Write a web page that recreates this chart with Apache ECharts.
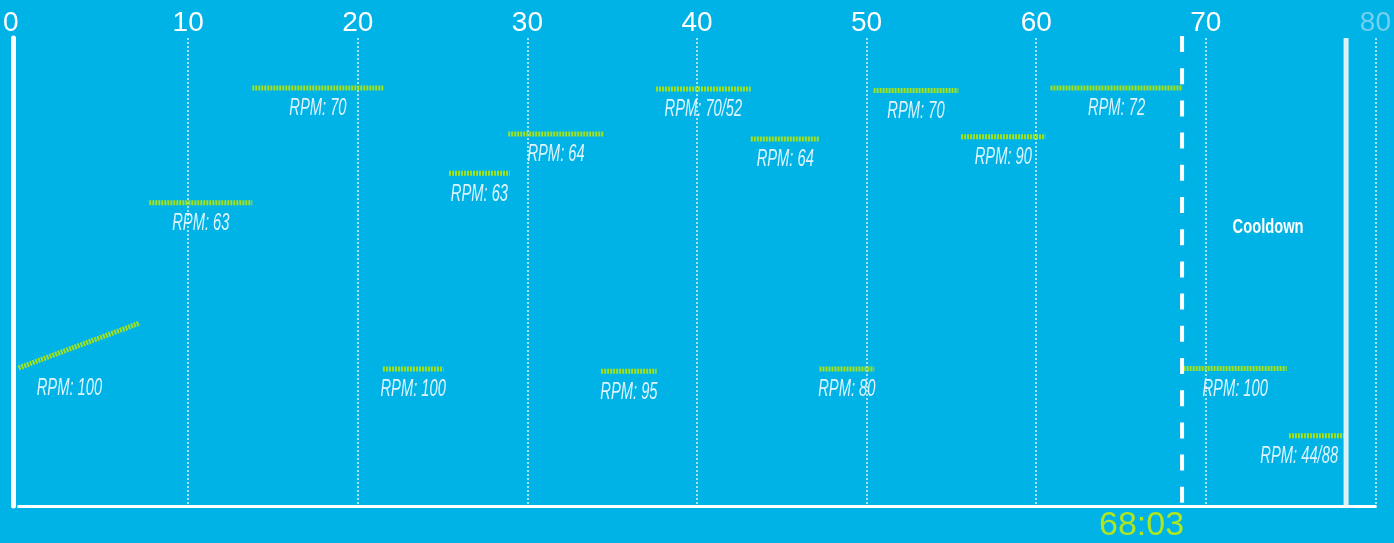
<!DOCTYPE html>
<html>
<head>
<meta charset="utf-8">
<title>Workout profile</title>
<script src="https://cdn.jsdelivr.net/npm/echarts@6/dist/echarts.min.js"></script>
<style>
  html, body { margin: 0; padding: 0; background: #00b3e6; }
  #chart { width: 1394px; height: 543px; }
</style>
</head>
<body>
<div id="chart"></div>
<script>
// minutes into the workout
const segStart = [0, 7.71, 13.78, 21.48, 25.38, 28.87, 34.35, 37.58, 43.17, 47.22, 50.41, 55.57, 60.84, 68.69, 74.9];
const segEnd = [7.14, 13.78, 21.52, 25.05, 28.96, 34.51, 37.62, 43.17, 47.24, 50.45, 55.41, 60.55, 68.63, 74.77, 78.14];
// effort level (0-100), start and end of each block
const levelStart = [29.5, 64.8, 89.3, 29.3, 71.1, 79.5, 28.8, 89.1, 78.4, 29.3, 88.8, 78.9, 89.3, 29.4, 15.0];
const levelEnd = [39.1, 64.8, 89.3, 29.3, 71.1, 79.5, 28.8, 89.1, 78.4, 29.3, 88.8, 78.9, 89.3, 29.4, 15.0];
const rpmLabels = ['RPM: 100', 'RPM: 63', 'RPM: 70', 'RPM: 100', 'RPM: 63', 'RPM: 64', 'RPM: 95',
  'RPM: 70/52', 'RPM: 64', 'RPM: 80', 'RPM: 70', 'RPM: 90', 'RPM: 72', 'RPM: 100', 'RPM: 44/88'];
const xTicks = [0, 10, 20, 30, 40, 50, 60, 70, 80];

const cooldownStart = 68.6;
const workoutEnd = 78.27;
const finishTime = '68:03';
const cooldownLabel = 'Cooldown';

// no condensed font installed, so squeeze the regular one
const labelFont = 'italic 23px "Liberation Sans"';
const labelScale = 0.64;

// measure text so the last label does not run into the end bar
const measureCtx = document.createElement('canvas').getContext('2d');
function textWidth(text, font) {
  measureCtx.font = font;
  return measureCtx.measureText(text).width;
}

function renderSegment(params, api) {
  const p0 = api.coord([api.value(0), api.value(2)]);
  const p1 = api.coord([api.value(1), api.value(3)]);
  const text = rpmLabels[params.dataIndex];
  const w = textWidth(text, labelFont) * labelScale;
  const limit = api.coord([workoutEnd, 0])[0] - 8;
  let lx = (p0[0] + p1[0]) / 2;
  // sloped blocks: label sits nearer the low end
  if (p0[1] !== p1[1]) lx = p0[0] + (p1[0] - p0[0]) * 0.42;
  if (lx + w / 2 > limit) lx = limit - w / 2;
  const ly = p0[1] + 21;
  return {
    type: 'group',
    children: [
      {
        type: 'line',
        shape: { x1: p0[0], y1: p0[1], x2: p1[0], y2: p1[1] },
        style: { stroke: '#a2e21c', lineWidth: 5, lineDash: [2, 1] }
      },
      {
        type: 'text',
        x: lx,
        y: ly,
        scaleX: labelScale,
        style: {
          text: text,
          fill: 'rgba(240,250,255,0.93)',
          font: labelFont,
          align: 'center', verticalAlign: 'middle',
          textAlign: 'center', textVerticalAlign: 'middle'
        }
      }
    ]
  };
}

function renderMarkers(params, api) {
  const top = api.coord([cooldownStart, 100]);
  const bottom = api.coord([cooldownStart, 0]);
  const endX = api.coord([workoutEnd, 0])[0];
  return {
    type: 'group',
    children: [
      {
        type: 'line',
        shape: { x1: top[0], y1: top[1] - 2, x2: top[0], y2: bottom[1] - 2 },
        style: { stroke: '#ffffff', lineWidth: 4, lineDash: [16, 16.2] }
      },
      {
        type: 'rect',
        shape: { x: endX - 2.5, y: top[1], width: 5, height: bottom[1] - top[1] - 1 },
        style: { fill: '#dcf0f8' }
      },
      {
        type: 'text',
        x: top[0] + 2,
        y: bottom[1] + 20,
        style: {
          text: finishTime,
          fill: '#aee71f',
          font: '34px "Liberation Sans"',
          align: 'right', verticalAlign: 'middle',
          textAlign: 'right', textVerticalAlign: 'middle'
        }
      },
      {
        type: 'text',
        x: (top[0] + endX) / 2 + 4,
        y: top[1] + (bottom[1] - top[1]) * 0.405,
        scaleX: 0.7,
        style: {
          text: cooldownLabel,
          fill: '#ffffff',
          font: 'bold 21px "Liberation Sans"',
          align: 'center', verticalAlign: 'middle',
          textAlign: 'center', textVerticalAlign: 'middle'
        }
      }
    ]
  };
}

const chart = echarts.init(document.getElementById('chart'));

const xMin = xTicks[0];
const xMax = xTicks[xTicks.length - 1];
const xStep = xTicks[1] - xTicks[0];

chart.setOption({
  backgroundColor: '#00b3e6',
  animation: false,
  grid: { left: 15.6, right: 17.3, top: 38, bottom: 37 },
  xAxis: [
    {
      type: 'value',
      position: 'top',
      min: xMin,
      max: xMax,
      interval: xStep,
      axisLine: { show: false },
      axisTick: { show: false },
      axisLabel: {
        margin: 1,
        fontFamily: 'Liberation Sans',
        fontSize: 28,
        alignMinLabel: 'right',
        color: function (v) {
          return String(v) === String(xMax) ? '#72d0f0' : '#ffffff';
        }
      },
      splitLine: {
        show: true,
        showMinLine: false,
        lineStyle: { color: 'rgba(255,255,255,0.85)', width: 1.5, type: [2, 2] }
      }
    },
    {
      type: 'value',
      position: 'bottom',
      min: xMin,
      max: xMax,
      axisLine: { show: true, onZero: false, lineStyle: { color: '#ffffff', width: 3 } },
      axisTick: { show: false },
      axisLabel: { show: false },
      splitLine: { show: false }
    }
  ],
  yAxis: {
    type: 'value',
    min: 0,
    max: 100,
    offset: 5,
    axisLine: { show: true, onZero: false, lineStyle: { color: '#ffffff', width: 5 } },
    axisTick: { show: false },
    axisLabel: { show: false },
    splitLine: { show: false }
  },
  series: [
    {
      type: 'custom',
      name: 'blocks',
      xAxisIndex: 0,
      clip: false,
      renderItem: renderSegment,
      encode: { x: [0, 1], y: [2, 3] },
      data: segStart.map((s, i) => [s, segEnd[i], levelStart[i], levelEnd[i]])
    },
    {
      type: 'custom',
      name: 'markers',
      xAxisIndex: 0,
      clip: false,
      renderItem: renderMarkers,
      encode: { x: [0, 1] },
      data: [[cooldownStart, workoutEnd]]
    }
  ]
});
</script>
</body>
</html>
